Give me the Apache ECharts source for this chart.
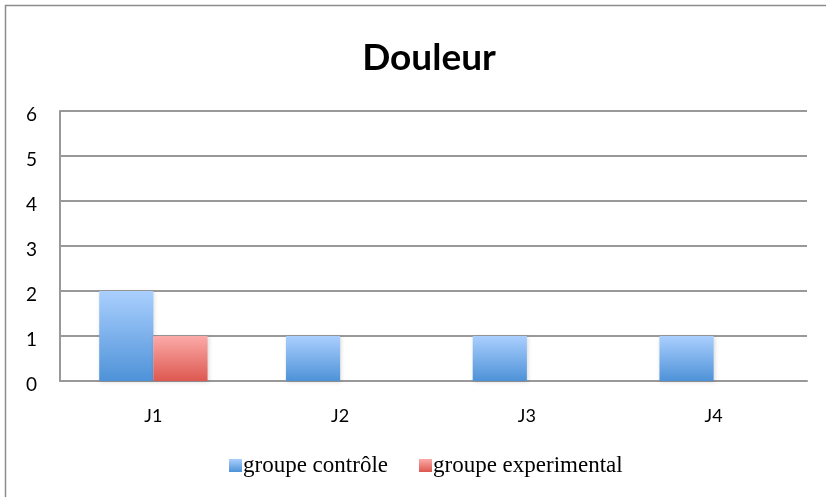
<!DOCTYPE html>
<html><head><meta charset="utf-8">
<script src="https://cdn.jsdelivr.net/npm/echarts@6/dist/echarts.min.js"></script>
<style>html,body{margin:0;padding:0;background:#fff}#c{width:826px;height:497px}</style>
</head><body><div id="c"></div>
<script>
const categories = ['J1', 'J2', 'J3', 'J4'];
const controle = [2, 1, 1, 1];
const experimental = [1, 0, 0, 0];
const yTicks = [0, 1, 2, 3, 4, 5, 6];

const chart = echarts.init(document.getElementById('c'));
function grad(top, bottom) {
  return new echarts.graphic.LinearGradient(0, 0, 0, 1, [{offset: 0, color: top}, {offset: 1, color: bottom}]);
}
chart.setOption({
  animation: false,
  backgroundColor: '#fff',
  title: {
    text: 'Douleur', left: 424, textAlign: 'center', top: 35,
    textStyle: {fontFamily: 'Lato', fontWeight: 'bold', fontSize: 37, color: '#000'}
  },
  graphic: [{
    type: 'rect', shape: {x: 5.5, y: 5.5, width: 840, height: 520},
    style: {fill: 'none', stroke: '#8c8c8c', lineWidth: 1.5}, silent: true
  }],
  legend: {
    top: 449, left: 224, itemWidth: 13, itemHeight: 13, itemGap: 31,
    icon: 'rect',
    textStyle: {fontFamily: 'Liberation Serif', fontSize: 23, color: '#000', padding: [3, 0, 0, -4]},
    data: ['groupe contrôle', 'groupe experimental']
  },
  grid: {left: 60, right: 19, top: 111, bottom: 116, containLabel: false},
  xAxis: {
    type: 'category', data: categories,
    axisLine: {lineStyle: {color: '#999', width: 2}},
    axisTick: {show: false},
    axisLabel: {fontFamily: 'Lato', fontSize: 18, color: '#000', margin: 28, verticalAlign: 'top', lineHeight: 14}
  },
  yAxis: {
    type: 'value', min: yTicks[0], max: yTicks[yTicks.length - 1], interval: 1,
    axisLine: {show: true, lineStyle: {color: '#999', width: 2}},
    axisTick: {show: false},
    axisLabel: {fontFamily: 'Lato', fontSize: 19, color: '#000', margin: 23, verticalAlign: 'top', lineHeight: 7},
    splitLine: {lineStyle: {color: '#999', width: 2}}
  },
  series: [{
    name: 'groupe contrôle', type: 'bar', data: controle,
    barWidth: '29%', barGap: '0%',
    itemStyle: {color: grad('#aacffe', '#4e92d8'), shadowColor: 'rgba(0,0,0,0.15)', shadowBlur: 4, shadowOffsetX: 1, shadowOffsetY: 1}
  }, {
    name: 'groupe experimental', type: 'bar', data: experimental,
    barWidth: '29%', barGap: '0%',
    itemStyle: {color: grad('#fbaaa8', '#dd5850'), shadowColor: 'rgba(0,0,0,0.15)', shadowBlur: 4, shadowOffsetX: 1, shadowOffsetY: 1}
  }]
});
</script></body></html>
